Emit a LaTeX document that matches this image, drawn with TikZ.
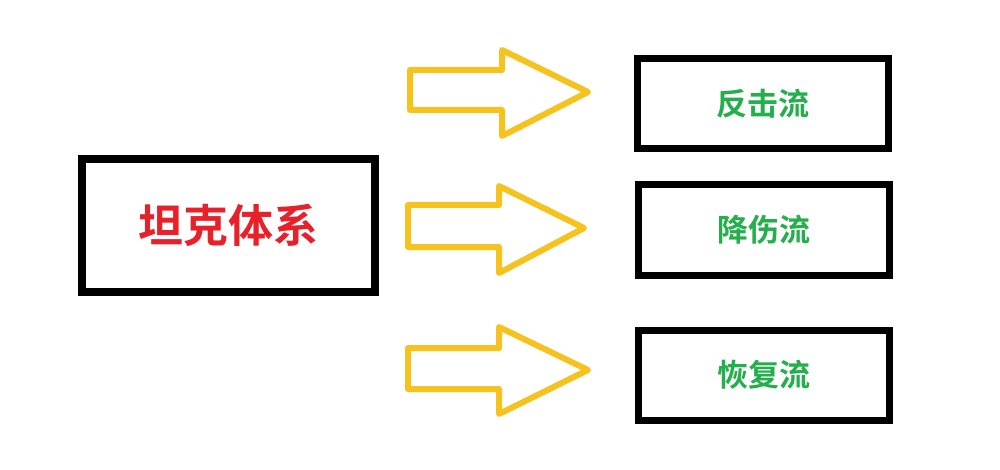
\documentclass[tikz,border=0pt]{standalone}
\usepackage{fontspec}
\newfontfamily\cjkbold{Noto Sans CJK SC Bold}
\definecolor{tankred}{HTML}{E8202A}
\definecolor{flowgreen}{HTML}{24AE4C}
\definecolor{arrowyellow}{HTML}{F6C21E}
\begin{document}
\begin{tikzpicture}[x=1pt,y=-1pt,
  mainbox/.style={draw=black,line width=8pt,fill=white,minimum width=293pt,minimum height=133pt,inner sep=0pt,
    font=\cjkbold\fontsize{45}{50}\selectfont,text=tankred},
  flowbox/.style={draw=black,line width=7pt,fill=white,minimum width=251pt,minimum height=90pt,inner sep=0pt,
    font=\cjkbold\fontsize{31}{35}\selectfont,text=flowgreen},
  yarrow/.style={draw=arrowyellow,line width=6pt,line join=round,fill=white}]
\useasboundingbox (0,0) rectangle (1000,470);
\fill[white] (0,0) rectangle (1000,470);
\node[mainbox] (tank) at (228.5,225.5) {坦克体系};
\node[flowbox] (f1) at (763,103.5) {反击流};
\node[flowbox] (f2) at (764,230) {降伤流};
\node[flowbox] (f3) at (764,375) {恢复流};
% hollow arrows
\draw[yarrow] (410,70) -- (502,70) -- (502,50) -- (588,92) -- (502,136) -- (502,110) -- (410,110) -- cycle;
\draw[yarrow] (408,205) -- (499,205) -- (499,186) -- (584,228) -- (499,273) -- (499,247) -- (408,247) -- cycle;
\draw[yarrow] (408,348) -- (499,348) -- (499,327) -- (588,370) -- (499,414) -- (499,389) -- (408,389) -- cycle;
\end{tikzpicture}
\end{document}
